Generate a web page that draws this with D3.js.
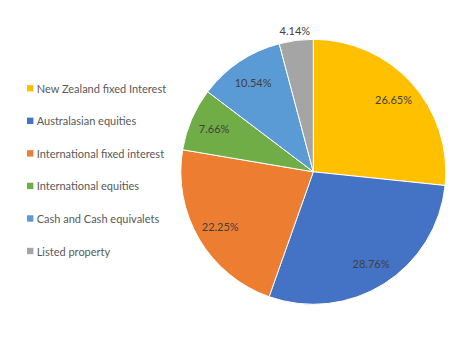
<!DOCTYPE html>
<html><head><meta charset="utf-8">
<script src="https://cdn.jsdelivr.net/npm/d3@7"></script>
<style>body{margin:0;background:#fff}svg{display:block}text{font-family:Lato,"Open Sans",sans-serif}</style>
</head><body><svg id="c" width="471" height="360"></svg>
<script>
const categories = ["New Zealand fixed Interest","Australasian  equities","International fixed interest","International equities","Cash and Cash equivalets","Listed property"];
const values = [26.65, 28.76, 22.25, 7.66, 10.54, 4.14];
const colors = ["#FFC000","#4472C4","#ED7D31","#70AD47","#5B9BD5","#A5A5A5"];

const svg = d3.select("#c");
const cx = 313.3, cy = 171.8, R = 132.5;
const g = svg.append("g").attr("transform", `translate(${cx},${cy})`);
const pie = d3.pie().sort(null).value(d => d)(values);
const arc = d3.arc().innerRadius(0).outerRadius(R);
g.selectAll("path").data(pie).join("path")
  .attr("d", arc).attr("fill", (d,i) => colors[i])
  .attr("stroke", "#fff").attr("stroke-width", 1);

const labelArc = d3.arc().innerRadius(108).outerRadius(108);
const outArc = d3.arc().innerRadius(142).outerRadius(142);
g.selectAll("text.lbl").data(pie).join("text").attr("class","lbl")
  .attr("transform", (d,i) => {
    const p = (i === values.length - 1 ? outArc : labelArc).centroid(d);
    return `translate(${p[0]},${p[1]})`;
  })
  .attr("text-anchor","middle").attr("dominant-baseline","central")
  .attr("font-size", 11).attr("fill", "#404040")
  .text(d => d.data.toFixed(2) + "%");

const ly = d3.scalePoint().domain(categories).range([88.3, 251]);
const leg = svg.append("g");
const items = leg.selectAll("g").data(categories).join("g")
  .attr("transform", d => `translate(27,${ly(d)})`);
items.append("rect").attr("x", 0).attr("y", -3.2).attr("width", 6.4).attr("height", 6.4)
  .attr("fill", (d,i) => colors[i]);
items.append("text").attr("x", 9.7).attr("y", 0).attr("dominant-baseline","central")
  .attr("font-size", 11).attr("fill", "#595959").text(d => d);
</script></body></html>
